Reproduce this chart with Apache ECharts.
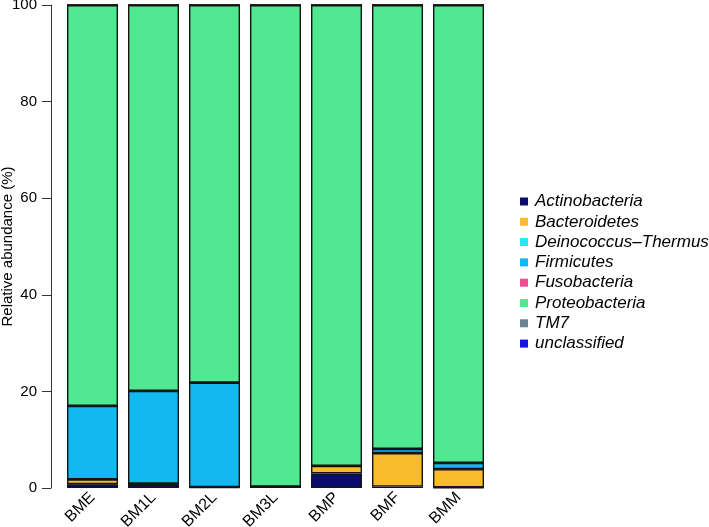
<!DOCTYPE html>
<html>
<head>
<meta charset="utf-8">
<script src="https://cdn.jsdelivr.net/npm/echarts@6/dist/echarts.min.js"></script>
<style>
html,body{margin:0;padding:0;background:#fff;}
#chart{width:709px;height:527px;}
</style>
</head>
<body>
<div id="chart"></div>
<script>
var categories = ['BME', 'BM1L', 'BM2L', 'BM3L', 'BMP', 'BMF', 'BMM'];
var yTicks = [0, 20, 40, 60, 80, 100];

var phyla = ['Actinobacteria', 'Bacteroidetes', 'Deinococcus\u2013Thermus', 'Firmicutes',
             'Fusobacteria', 'Proteobacteria', 'TM7', 'unclassified'];
var colors = ['#0C0C6E', '#F8BC2A', '#22E6F2', '#12B9F0', '#EE4C92', '#50E991', '#6A8592', '#1414E6'];

var actinobacteria   = [0.8, 0.9, 0.2, 0.3, 3.0, 0.3, 0.1];
var bacteroidetes    = [1.0, 0.0, 0.0, 0.0, 1.6, 6.9, 3.8];
var deinococcus      = [0.0, 0.0, 0.0, 0.0, 0.0, 0.0, 0.0];
var firmicutes       = [15.2, 19.2, 21.6, 0.0, 0.0, 0.9, 1.3];
var fusobacteria     = [0.0, 0.0, 0.0, 0.0, 0.0, 0.0, 0.0];
var proteobacteria   = [83.0, 79.9, 78.2, 99.7, 95.4, 91.9, 94.8];
var tm7              = [0.0, 0.0, 0.0, 0.0, 0.0, 0.0, 0.0];
var unclassified     = [0.0, 0.0, 0.0, 0.0, 0.0, 0.0, 0.0];

var seriesValues = [actinobacteria, bacteroidetes, deinococcus, firmicutes,
                    fusobacteria, proteobacteria, tm7, unclassified];

var FONT = 'Liberation Sans, Arial, Helvetica, sans-serif';

var series = phyla.map(function (name, i) {
  return {
    name: name,
    type: 'bar',
    stack: 'total',
    barWidth: 51,
    data: seriesValues[i],
    itemStyle: { color: colors[i], borderColor: '#151515', borderWidth: 1.4 },
    emphasis: { disabled: true }
  };
});

var chart = echarts.init(document.getElementById('chart'), null, { renderer: 'canvas' });
chart.setOption({
  animation: false,
  backgroundColor: '#ffffff',
  textStyle: { fontFamily: FONT },
  color: colors,
  grid: { left: 62, width: 427, top: 5, bottom: 39, containLabel: false, outerBoundsMode: 'none' },
  legend: {
    orient: 'vertical',
    left: 515,
    top: 188,
    icon: 'rect',
    itemWidth: 8,
    itemHeight: 8,
    itemGap: 3.3,
    data: phyla.map(function (n, i) { return { name: n, itemStyle: { color: colors[i], borderWidth: 0 } }; }),
    textStyle: { fontFamily: FONT, fontStyle: 'italic', fontSize: 17, lineHeight: 17, color: '#000', padding: [0, 0, 0, 2] }
  },
  xAxis: {
    type: 'category',
    data: categories,
    axisLine: { show: false },
    axisTick: { show: false },
    axisLabel: { rotate: 45, margin: 7, fontSize: 16, color: '#000', fontFamily: FONT, interval: 0 }
  },
  yAxis: {
    type: 'value',
    min: yTicks[0],
    max: yTicks[yTicks.length - 1],
    interval: 20,
    offset: 11,
    name: 'Relative abundance (%)',
    nameLocation: 'middle',
    nameGap: 36,
    nameMoveOverlap: false,
    nameTextStyle: { fontSize: 15, color: '#000', fontFamily: FONT },
    axisLine: { show: true, lineStyle: { color: '#333', width: 1 } },
    axisTick: { show: true, length: 9, lineStyle: { color: '#333', width: 1 } },
    axisLabel: { margin: 14, fontSize: 15, color: '#000', fontFamily: FONT },
    splitLine: { show: false }
  },
  series: series
});
</script>
</body>
</html>
